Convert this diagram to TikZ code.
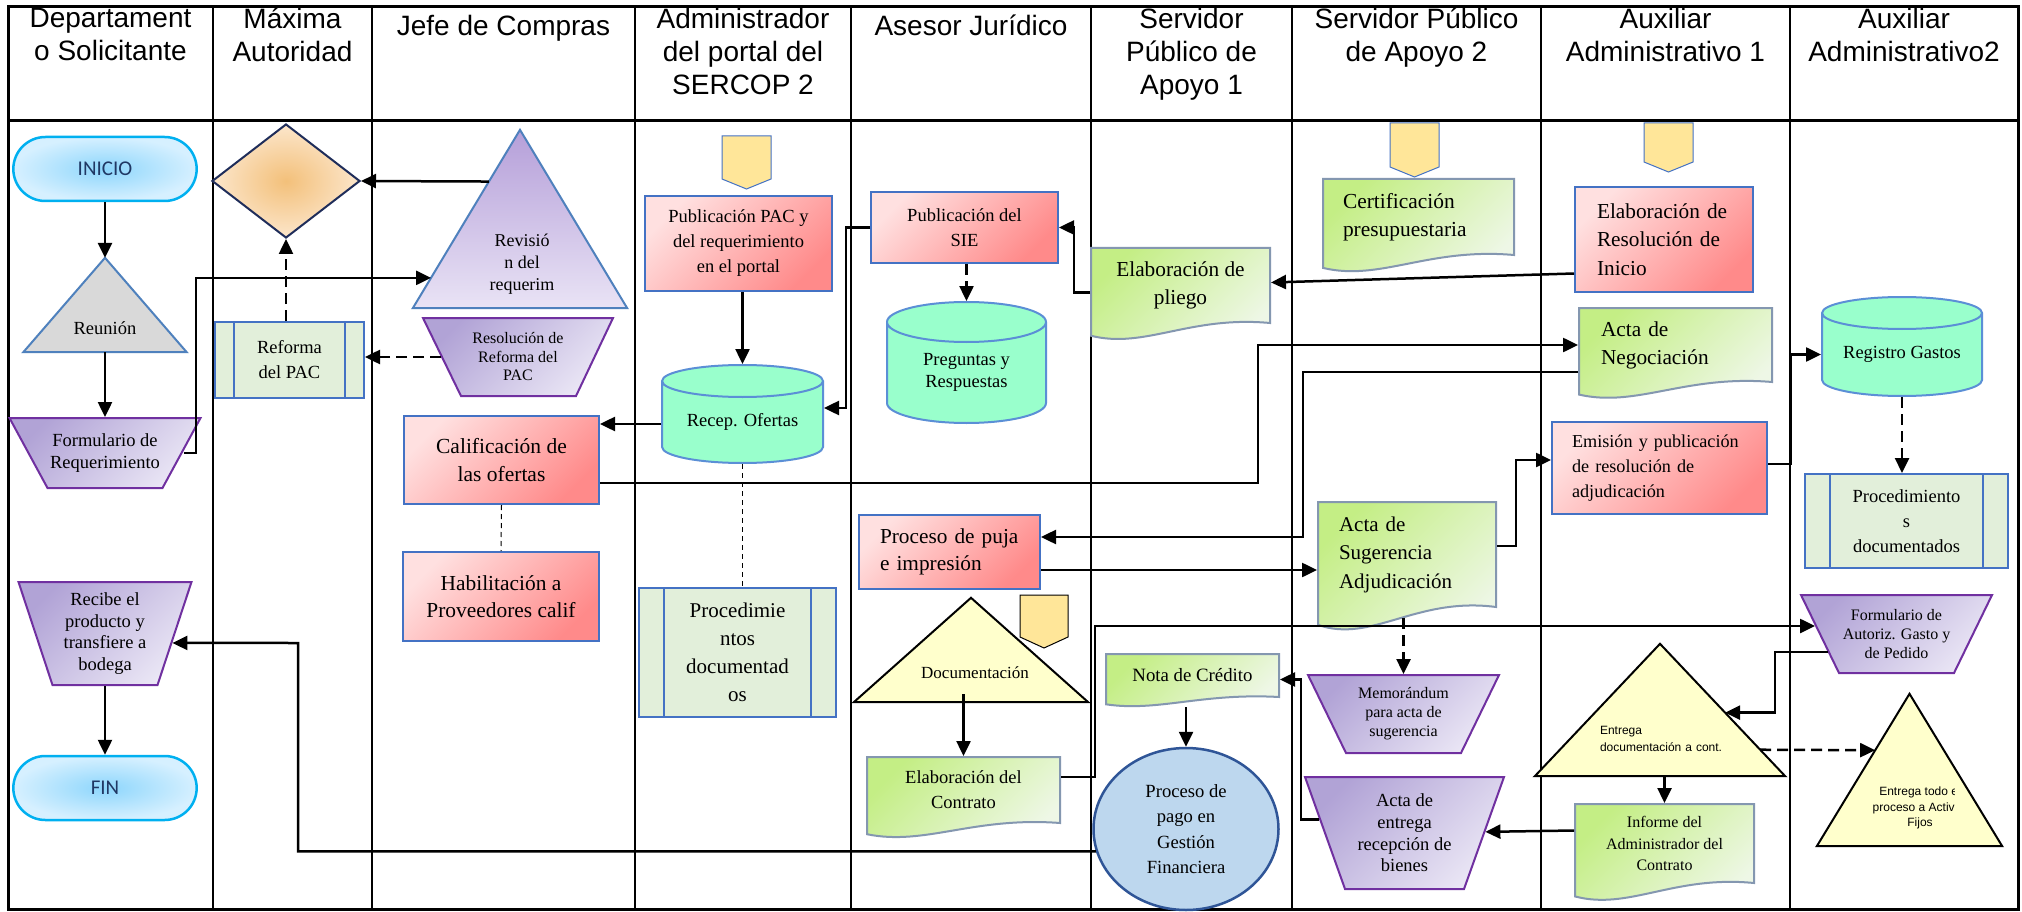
\documentclass[tikz,border=0pt]{standalone}
\usepackage{fontspec}
\setmainfont{Liberation Serif}
\setsansfont{Liberation Sans}
\newfontfamily\calibrifont{Carlito}
\usetikzlibrary{arrows.meta,shapes.geometric,shapes.misc,calc}

\definecolor{boxblue}{HTML}{4472C4}
\definecolor{docline}{HTML}{8497B0}
\definecolor{redA}{HTML}{FFE0E0}
\definecolor{redB}{HTML}{FF8A8A}
\definecolor{greenA}{HTML}{C4EE85}
\definecolor{greenB}{HTML}{EEF7E6}
\definecolor{purpA}{HTML}{B1A3D6}
\definecolor{purpB}{HTML}{EAE6F5}
\definecolor{purpline}{HTML}{7030A0}
\definecolor{revA}{HTML}{B59FD9}
\definecolor{revB}{HTML}{E9E3F5}
\definecolor{revline}{HTML}{4F81BD}
\definecolor{mint}{HTML}{99FFCC}
\definecolor{cylline}{HTML}{5B8FD6}
\definecolor{procfill}{HTML}{E2EFDA}
\definecolor{tagfill}{HTML}{FFE699}
\definecolor{trifill}{HTML}{FFFFCC}
\definecolor{termline}{HTML}{00B0F0}
\definecolor{termin}{HTML}{8DD6FC}
\definecolor{termout}{HTML}{D6F0FF}
\definecolor{termtext}{HTML}{203864}
\definecolor{diain}{HTML}{F3C07A}
\definecolor{diaout}{HTML}{FCE6CB}
\definecolor{dialine}{HTML}{1F2D5A}
\definecolor{payfill}{HTML}{BDD7EE}
\definecolor{payline}{HTML}{2F5597}
\definecolor{grayfill}{HTML}{D9D9D9}

% wavy document outline: top left and bottom right corner of the body
\newcommand{\docpath}[4]{(#1,#2) -- (#3,#2) -- (#3,#4)
  .. controls ({#1+0.55*(#3-#1)},{#4-0.1*(#4-#2)}) and ({#1+0.3*(#3-#1)},{#4+0.35*(#4-#2)})
  .. (#1,{#4+0.17*(#4-#2)}) -- cycle}

\tikzset{
  link/.style={line width=2.5pt, -{Triangle[length=15pt,width=14pt]}},
  dlink/.style={link, dash pattern=on 11pt off 6pt},
  tie/.style={line width=1pt, dash pattern=on 5pt off 4pt},
  txt/.style 2 args={font=\fontsize{#1}{#2}\selectfont, align=center, inner sep=0pt},
  stxt/.style 2 args={font=\sffamily\fontsize{#1}{#2}\selectfont, align=center, inner sep=0pt},
  shapebox/.style 2 args={inner sep=0pt, minimum width=#1pt, minimum height=#2pt},
  head/.style={anchor=north, inner sep=0pt, align=center,
    font=\sffamily\fontsize{28}{33}\selectfont, execute at begin node={\rule{0pt}{27pt}}},
  term/.style={rounded rectangle, draw=termline, line width=2.5pt, inner color=termin,
    outer color=termout, minimum width=190pt, minimum height=64pt,
    font=\calibrifont\fontsize{21}{25}\selectfont, text=termtext},
  redbox/.style={draw=boxblue, line width=2pt, top color=redA, bottom color=redB, shading angle=45},
  docshape/.style={draw=docline, line width=2pt, top color=greenA, bottom color=greenB, shading angle=45},
  trapshape/.style={draw=purpline, line width=2pt, top color=purpA, bottom color=purpB, shading angle=45},
  cylshape/.style={draw=cylline, line width=2pt, fill=mint},
  tagshape/.style={draw=boxblue, line width=1pt, fill=tagfill},
  yellowtri/.style={draw=black, line width=2pt, fill=trifill},
  procbox/.style={draw=boxblue, line width=2pt, fill=procfill,
    path picture={\draw[boxblue, line width=2pt]
      ($(path picture bounding box.north west)!.125!(path picture bounding box.north east)$) --
      ($(path picture bounding box.south west)!.125!(path picture bounding box.south east)$)
      ($(path picture bounding box.north west)!.875!(path picture bounding box.north east)$) --
      ($(path picture bounding box.south west)!.875!(path picture bounding box.south east)$);}},
}

\begin{document}
\begin{tikzpicture}[x=1pt, y=-1pt]
  \path[use as bounding box, fill=white] (0,0) rectangle (2022,912);

  % lanes
  \draw[line width=3pt] (8,7) rectangle (2018,909);
  \draw[line width=3pt] (8,121) -- (2018,121);
  \foreach \x in {213,372,635,851,1091,1292,1541,1790}
    \draw[line width=2.5pt] (\x,7) -- (\x,909);
  \foreach \x/\t [count=\i] in {110.5/{Departament\\o Solicitante}, 292.5/{Máxima\\Autoridad},
      503.5/{Jefe de Compras}, 743/{Administrador\\del portal del\\SERCOP 2}, 971/{Asesor Jurídico},
      1191.5/{Servidor\\Público de\\Apoyo 1}, 1416.5/{Servidor Público\\de Apoyo 2},
      1665.5/{Auxiliar\\Administrativo 1}, 1904/{Auxiliar\\Administrativo2}}
    \node[head] (head\i) at (\x,8) {\t};

  % Departamento Solicitante
  \node[term] (inicio) at (105,169) {INICIO};
  \path (105,305) node[shapebox={163}{94}] (reunion) {};
  \draw[draw=revline, line width=2pt, fill=grayfill] (reunion.south west) -- (reunion.north)
    -- (reunion.south east) -- cycle
    node[txt={18.5}{22}] (reuniontext) at ([yshift=-23pt]reunion.center) {Reunión};
  \draw[trapshape] (9.5,418) -- (200.5,418) -- (162.5,488) -- (47.5,488) -- cycle
    node[shapebox={191}{70}, txt={18.5}{21.5}] (formreq) at (105,453) {Formulario de\\Requerimiento};
  \draw[trapshape] (18.5,582) -- (191.5,582) -- (157.5,685) -- (52.5,685) -- cycle
    node[shapebox={173}{103}, txt={18.5}{21.7}] (recibe) at (105,633.5) {Recibe el\\producto y\\transfiere a\\bodega};
  \node[term] (fin) at (105,788) {FIN};

  % Maxima Autoridad
  \node[diamond, draw=dialine, line width=2pt, inner color=diain, outer color=diaout,
    minimum width=148pt, minimum height=114pt, inner sep=0pt] (decide) at (286,181) {};
  \node[procbox, txt={18.5}{25}, minimum width=149pt, minimum height=76pt] (reforma) at (289.5,360) {Reforma\\del PAC};

  % Jefe de Compras
  \path (520,219) node[shapebox={214}{178}] (revision) {};
  \draw[draw=revline, line width=2pt, top color=revA, bottom color=revB] (revision.south west)
    -- (revision.north) -- (revision.south east) -- cycle
    node[txt={18}{22}] (revisiontext) at ([xshift=2pt,yshift=-45pt]revision.center) {Revisió\\n del\\requerim};
  \draw[trapshape] (423,318) -- (613,318) -- (576,396) -- (461,396) -- cycle
    node[shapebox={190}{78}, txt={16}{18.5}] (resref) at (518,357) {Resolución de\\Reforma del\\PAC};
  \node[redbox, txt={21.5}{27.7}, minimum width=195pt, minimum height=88pt] (calif) at (501.5,460) {Calificación de\\las ofertas};
  \node[redbox, txt={21.4}{27.5}, minimum width=196pt, minimum height=89pt] (habil) at (501,596.5) {Habilitación a\\Proveedores calif};

  % Administrador del portal
  \draw[tagshape] (722,136) -- (771,136) -- (771,179) -- (746.5,189) -- (722,179) -- cycle;
  \node[redbox, txt={18.5}{25}, minimum width=187pt, minimum height=95pt] (pubpac) at (738.5,243.5) {Publicación PAC y\\del requerimiento\\en el portal};
  \draw[cylshape] (662,381) -- (662,447) arc[start angle=180, end angle=360, x radius=80.5pt, y radius=16pt]
    -- (823,381) arc[start angle=0, end angle=180, x radius=80.5pt, y radius=16pt] -- cycle
    (662,381) arc[start angle=180, end angle=360, x radius=80.5pt, y radius=16pt]
    node[shapebox={161}{82}, txt={18.5}{22}] (recep) at (742.5,422) {Recep. Ofertas};
  \node[procbox, txt={21}{28}, minimum width=197pt, minimum height=129pt] (procleft) at (737.5,652.5) {Procedimie\\ntos\\documentad\\os};

  % Asesor Juridico
  \node[redbox, txt={18.5}{25}, minimum width=187pt, minimum height=71pt] (pubsie) at (964.5,227.5) {Publicación del\\SIE};
  \draw[cylshape] (887,322) -- (887,403) arc[start angle=180, end angle=360, x radius=79.5pt, y radius=20pt]
    -- (1046,322) arc[start angle=0, end angle=180, x radius=79.5pt, y radius=20pt] -- cycle
    (887,322) arc[start angle=180, end angle=360, x radius=79.5pt, y radius=20pt]
    node[shapebox={159}{101}, txt={18.5}{22}] (pregres) at (966.5,372.5) {Preguntas y\\Respuestas};
  \node[redbox, txt={21.3}{27.5}, minimum width=181pt, minimum height=74pt, text width=139pt,
    align=left, inner xsep=21pt] (puja) at (949.5,552) {Proceso de puja\\e impresión};
  \path (971,650) node[shapebox={234}{104}] (docu) {};
  \draw[yellowtri] (docu.south west) -- (docu.north) -- (docu.south east) -- cycle
    node[txt={17}{20}] (docutext) at ([xshift=4pt,yshift=-23pt]docu.center) {Documentación};
  \draw[tagshape, draw=black] (1020,595) -- (1068,595) -- (1068,637) -- (1044,648) -- (1020,637) -- cycle;
  \draw[docshape] \docpath{867}{757}{1060}{823}
    node[shapebox={193}{66}, txt={18.5}{25}] (contrato) at (963.5,790) {Elaboración del\\Contrato};

  % Servidor Publico de Apoyo 1
  \draw[docshape] \docpath{1091}{248}{1270}{323}
    node[shapebox={179}{75}, txt={21.3}{28}] (pliego) at (1180.5,285.5) {Elaboración de\\pliego};
  \draw[docshape] \docpath{1106}{654}{1279}{697}
    node[shapebox={173}{43}, txt={18.8}{22}] (nota) at (1192.5,675.5) {Nota de Crédito};
  \node[ellipse, draw=payline, line width=2.5pt, fill=payfill, minimum width=185pt,
    minimum height=162pt, txt={18.6}{25.5}] (pago) at (1186,829) {Proceso de\\pago en\\Gestión\\Financiera};

  % Servidor Publico de Apoyo 2
  \draw[tagshape] (1390,123) -- (1439,123) -- (1439,167) -- (1414.5,177) -- (1390,167) -- cycle;
  \draw[docshape] \docpath{1323}{179}{1514}{255}
    node[shapebox={191}{76}, txt={21.4}{28}, text width=151pt, align=left, inner xsep=20pt]
    (cert) at (1418.5,217) {Certificación\\presupuestaria};
  \draw[docshape] \docpath{1318}{502}{1496}{607}
    node[shapebox={178}{105}, txt={21}{28.5}, text width=136pt, align=left, inner xsep=21pt]
    (sugerencia) at (1407,554.5) {Acta de\\Sugerencia\\Adjudicación};
  \draw[trapshape] (1308,675) -- (1499,675) -- (1461,753) -- (1346,753) -- cycle
    node[shapebox={191}{78}, txt={16}{19}] (memo) at (1403.5,714) {Memorándum\\para acta de\\sugerencia};
  \draw[trapshape] (1305,777) -- (1504,777) -- (1464,889) -- (1345,889) -- cycle
    node[shapebox={199}{112}, txt={18.5}{21.7}] (entrega) at (1404.5,833) {Acta de\\entrega\\recepción de\\bienes};

  % Auxiliar Administrativo 1
  \draw[tagshape] (1644,123) -- (1693,123) -- (1693,162) -- (1668.5,172) -- (1644,162) -- cycle;
  \node[redbox, txt={21.3}{28.5}, minimum width=178pt, minimum height=105pt, text width=134pt,
    align=left, inner xsep=22pt] (resini) at (1664,239.5) {Elaboración de\\Resolución de\\Inicio};
  \draw[docshape] \docpath{1579}{308}{1772}{382}
    node[shapebox={193}{74}, txt={21.3}{28}, text width=149pt, align=left, inner xsep=22pt]
    (negoc) at (1675.5,345) {Acta de\\Negociación};
  \node[redbox, txt={18.2}{25}, minimum width=215pt, minimum height=92pt, text width=175pt,
    align=left, inner xsep=20pt] (emision) at (1659.5,468) {Emisión y publicación\\de resolución de\\adjudicación};
  \path (1660,710) node[shapebox={250}{132}] (entcont) {};
  \draw[yellowtri] (entcont.south west) -- (entcont.north) -- (entcont.south east) -- cycle
    node[stxt={12}{17.7}, anchor=west, text width=130pt, align=left] (entconttext) at (1599,739) {Entrega\\documentación a cont.};
  \draw[docshape] \docpath{1575}{804}{1754}{883}
    node[shapebox={179}{79}, txt={16}{21.7}] (informe) at (1664.5,843.5) {Informe del\\Administrador del\\Contrato};

  % Auxiliar Administrativo 2
  \draw[cylshape] (1822,313) -- (1822,380) arc[start angle=180, end angle=360, x radius=80pt, y radius=16pt]
    -- (1982,313) arc[start angle=0, end angle=180, x radius=80pt, y radius=16pt] -- cycle
    (1822,313) arc[start angle=180, end angle=360, x radius=80pt, y radius=16pt]
    node[shapebox={160}{83}, txt={18.5}{22}] (registro) at (1902,354.5) {Registro Gastos};
  \node[procbox, txt={18.5}{25}, minimum width=203pt, minimum height=94pt] (procright) at (1906.5,521) {Procedimiento\\s\\documentados};
  \draw[trapshape] (1801,595) -- (1992,595) -- (1954,673) -- (1839,673) -- cycle
    node[shapebox={191}{78}, txt={16}{19.3}] (formaut) at (1896.5,634) {Formulario de\\Autoriz. Gasto y\\de Pedido};
  \path (1909.5,770) node[shapebox={185}{152}] (activos) {};
  \draw[yellowtri] (activos.south west) -- (activos.north) -- (activos.south east) -- cycle;
  \begin{scope}
    \clip (1800,690) rectangle (1954,850);
    \node[stxt={12}{15.7}] (activostext) at (1920,808) {Entrega todo el\\proceso a Activos\\Fijos};
  \end{scope}

  % connectors
  \draw[link] (inicio.south) -- (reunion.north);
  \draw[link] (reunion.south) -- (formreq.north);
  \draw[link] ([xshift=-18pt]formreq.east) -- (196,453) |- ($(revision.south west)!.17!(revision.north)$);
  \draw[link] ($(revision.south west)!.71!(revision.north)$) -- (decide.east);
  \draw[dlink] (reforma.north -| decide.south) -- (decide.south);
  \draw[dlink] ([xshift=19pt]resref.west) -- (resref.west -| reforma.east);
  \draw[link] ([yshift=-2pt]recep.west) -- ([yshift=-2pt]recep.west -| calif.east);
  \draw[link] ([yshift=-23pt]calif.east) -- (1258,483) |- (negoc.west);
  \draw[tie] (calif.south) -- (habil.north);
  \draw[link] (pubpac.south -| recep.north) -- ([yshift=16pt]recep.north);
  \draw[tie] (recep.south) -- (recep.south |- procleft.north);
  \draw[link] (pubsie.west) -- (846,227.5) |- ([yshift=14pt]recep.east);
  \draw[dlink] (pubsie.south -| pregres.north) -- ([yshift=20pt]pregres.north);
  \draw[link] ([yshift=-7pt]pliego.west) -| (1074,227.5) -- (pubsie.east);
  \draw[link] ([yshift=-34pt]resini.west) -- ([yshift=3pt]pliego.east);
  \draw[link] ([yshift=-27pt]negoc.west) -| (1303,537) -- ([yshift=15pt]puja.east);
  \draw[link] ([yshift=-18pt]puja.east) -- ([yshift=-18pt]puja.east -| sugerencia.west);
  \draw[link] ([yshift=8.5pt]sugerencia.east) -- (1516,546) |- ([yshift=8pt]emision.west);
  \draw[dlink] ([yshift=-10pt]memo.north |- sugerencia.south) -- (memo.north);
  \draw[link] ([yshift=4pt]emision.east) -- (1791,464) |- (registro.west);
  \draw[dlink] (registro.south) -- (registro.south |- procright.north);
  \draw[link] ([yshift=8pt]docu.south -| contrato.north) -- (contrato.north);
  \draw[link] ([yshift=13pt]contrato.east) -- (1095,777) |- ([xshift=15pt,yshift=8pt]formaut.west);
  \draw[link] ([xshift=28pt,yshift=-18pt]formaut.west) -- (1775,652) |- ($(entcont.north)!.52!(entcont.south east)$);
  \draw[dlink] ($(entcont.north)!.8!(entcont.south east)$) -- ($(activos.north)!.37!(activos.south west)$);
  \draw[link] (entcont.south -| informe.north) -- (informe.north);
  \draw[link] ([yshift=13pt]informe.west) -- ($(entrega.north east)!.49!([xshift=-40pt]entrega.south east)$);
  \draw[link] ($(entrega.north west)!.38!([xshift=40pt]entrega.south west)$) -| (1301,679.5) -- ([yshift=-4pt]nota.east);
  \draw[link] ([yshift=-9pt]pago.north |- nota.south) -- (pago.north);
  \draw[link] (pago.194) -| (298,643) -- ($(recibe.north east)!.59!([xshift=-34pt]recibe.south east)$);
  \draw[link] (recibe.south) -- (fin.north);
\end{tikzpicture}
\end{document}
